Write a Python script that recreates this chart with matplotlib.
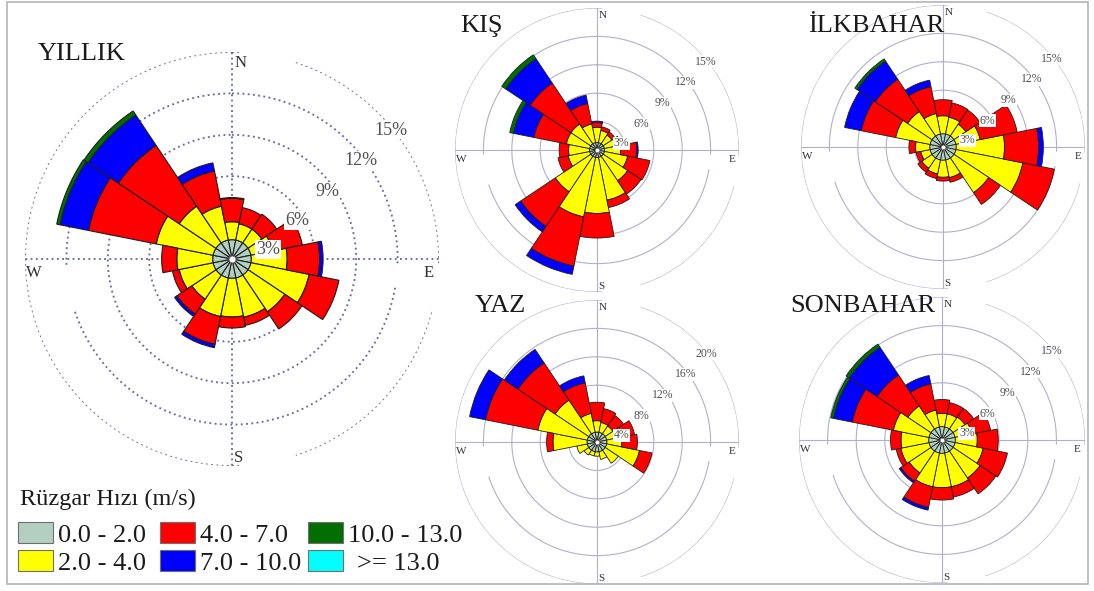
import numpy as np
from matplotlib import pyplot as plt
from matplotlib.patches import Rectangle

plt.rcParams['font.family'] = ['Liberation Serif', 'DejaVu Serif']

W, H = 1094, 591

directions = ['N', 'NNE', 'NE', 'ENE', 'E', 'ESE', 'SE', 'SSE',
              'S', 'SSW', 'SW', 'WSW', 'W', 'WNW', 'NW', 'NNW']
speedLabels = ['0.0 - 2.0', '2.0 - 4.0', '4.0 - 7.0',
               '7.0 - 10.0', '10.0 - 13.0', '>= 13.0']
speedColors = ['#b2cfc0', '#ffff00', '#ff0000', '#0000ff', '#006f00', '#00ffff']

# frequencies (%) per direction, one list per speed class
yillik02 = [1.4, 1.4, 1.4, 1.4, 1.4, 1.4, 1.4, 1.4, 1.4, 1.4, 1.4, 1.4, 1.4, 1.4, 1.4, 1.4]
yillik24 = [1.3, 1.2, 1.2, 1.6, 2.6, 4.3, 3.2, 2.9, 2.8, 2.85, 2.1, 2.5, 2.6, 4.2, 3.2, 2.5]
yillik47 = [1.7, 1.2, 1.3, 2.2, 2.35, 2.2, 1.5, 0.6, 0.8, 2.05, 1.3, 0.5, 1.1, 5.0, 5.3, 2.6]
yillik710 = [0.05, 0, 0, 0, 0.25, 0, 0, 0, 0, 0.25, 0.2, 0, 0, 2.1, 2.65, 0.6]
yillik1013 = [0, 0, 0, 0, 0, 0, 0, 0, 0, 0, 0, 0, 0, 0.25, 0.35, 0]
yillik13 = [0, 0, 0, 0, 0, 0, 0, 0, 0, 0, 0, 0, 0, 0, 0, 0]

kis02 = [0.8, 0.8, 0.8, 0.8, 0.8, 0.8, 0.8, 0.8, 0.8, 0.8, 0.8, 0.8, 0.8, 0.8, 0.8, 0.8]
kis24 = [1.6, 1.3, 1.1, 1.3, 1.7, 2.5, 3.1, 4.6, 5.9, 6.4, 4.5, 2.3, 2.2, 2.5, 2.5, 2.0]
kis47 = [0.5, 0.4, 0.4, 0.5, 1.7, 2.4, 1.7, 0.8, 2.6, 5.3, 4.4, 1.1, 1.0, 3.5, 5.2, 2.2]
kis710 = [0.15, 0, 0, 0, 0.15, 0, 0, 0, 0, 0.9, 0.7, 0, 0, 2.2, 3.1, 0.9]
kis1013 = [0, 0, 0, 0, 0, 0, 0, 0, 0, 0, 0, 0, 0, 0.4, 0.5, 0]
kis13 = [0, 0, 0, 0, 0, 0, 0, 0, 0, 0, 0, 0, 0, 0, 0, 0]

ilkbahar02 = [1.4, 1.4, 1.4, 1.4, 1.4, 1.4, 1.4, 1.4, 1.4, 1.4, 1.4, 1.4, 1.4, 1.4, 1.4, 1.4]
ilkbahar24 = [1.9, 1.8, 1.5, 2.6, 5.1, 7.2, 4.4, 1.9, 1.8, 1.5, 1.3, 1.0, 1.5, 3.7, 3.1, 2.2]
ilkbahar47 = [1.7, 1.55, 1.8, 4.0, 3.6, 3.4, 1.5, 0.5, 0.4, 0.5, 0.5, 0.5, 0.7, 3.7, 4.1, 2.9]
ilkbahar710 = [0, 0, 0, 0, 0.5, 0, 0, 0, 0, 0, 0, 0, 0, 1.8, 2.3, 0.7]
ilkbahar1013 = [0, 0, 0, 0, 0, 0, 0, 0, 0, 0, 0, 0, 0, 0, 0.3, 0]
ilkbahar13 = [0, 0, 0, 0, 0, 0, 0, 0, 0, 0, 0, 0, 0, 0, 0, 0]

yaz02 = [1.4, 1.4, 1.4, 1.4, 1.4, 1.4, 1.4, 1.4, 1.4, 1.4, 1.4, 1.4, 1.4, 1.4, 1.4, 1.4]
yaz24 = [1.6, 1.4, 1.3, 1.6, 2.1, 4.7, 2.2, 1.1, 0.6, 0.6, 0.8, 1.5, 4.8, 7.1, 5.7, 2.7]
yaz47 = [2.6, 2.0, 1.8, 2.4, 2.2, 1.8, 0, 0, 0, 0, 0, 0, 0.9, 7.5, 6.3, 4.4]
yaz710 = [0, 0, 0, 0, 0, 0, 0, 0, 0, 0, 0, 0, 0, 2.3, 2.3, 1.0]
yaz1013 = [0, 0, 0, 0, 0, 0, 0, 0, 0, 0, 0, 0, 0, 0, 0, 0]
yaz13 = [0, 0, 0, 0, 0, 0, 0, 0, 0, 0, 0, 0, 0, 0, 0, 0]

sonbahar02 = [1.4, 1.4, 1.4, 1.4, 1.4, 1.4, 1.4, 1.4, 1.4, 1.4, 1.4, 1.4, 1.4, 1.4, 1.4, 1.4]
sonbahar24 = [1.4, 1.4, 1.5, 1.8, 2.3, 3.0, 3.4, 3.6, 3.6, 3.6, 2.75, 3.0, 2.9, 3.8, 2.9, 1.8]
sonbahar47 = [1.45, 1.2, 1.1, 2.0, 2.2, 2.6, 2.0, 1.1, 1.3, 2.2, 1.05, 0.5, 1.1, 4.4, 3.9, 2.8]
sonbahar710 = [0, 0, 0, 0, 0, 0, 0, 0, 0, 0.3, 0.2, 0, 0, 2.0, 3.5, 0.9]
sonbahar1013 = [0, 0, 0, 0, 0, 0, 0, 0, 0, 0, 0, 0, 0, 0.3, 0.4, 0]
sonbahar13 = [0, 0, 0, 0, 0, 0, 0, 0, 0, 0, 0, 0, 0, 0, 0, 0]

ringsPct = [3, 6, 9, 12, 15]
yazRingsPct = [4, 8, 12, 16, 20]

# where the % labels sit: (fraction of outer ring, math angle in deg)
labelSpots = [(0.18, 15), (0.365, 30.5), (0.565, 35.5), (0.785, 37.5), (0.99, 39)]
# breaks in the rings (compass degrees), by ring index
ringGaps = {3: [(92, 100), (252, 268)],
            4: [(2, 18), (92, 105), (162, 178)]}


def arcPieces(gaps):
    pieces = []
    start = 0
    for a, b in gaps:
        pieces.append((start, a))
        start = b
    pieces.append((start, 360))
    return pieces


def drawRose(fig, cx, cy, radius, rings, classes, big=False):
    ax = fig.add_axes([(cx - radius) / W, 1 - (cy + radius) / H,
                       2 * radius / W, 2 * radius / H], projection='polar')
    ax.set_theta_zero_location('N')
    ax.set_theta_direction(-1)
    rmax = rings[-1]
    ax.set_ylim(0, rmax)
    ax.axis('off')

    if big:
        gridKw = dict(color='#6a6aa2', lw=1.35, linestyle=(0, (1, 1.8)))
    else:
        gridKw = dict(color='#b0b0cc', lw=0.8, linestyle='-')

    for i, r in enumerate(rings):
        for a, b in arcPieces(ringGaps.get(i, [])):
            t = np.deg2rad(np.linspace(a, b, 120))
            ax.plot(t, np.full_like(t, r), zorder=1, **gridKw)
    for a in [0, 90, 180, 270]:
        ax.plot([np.deg2rad(a)] * 2, [0, rmax], zorder=1, **gridKw)

    theta = np.deg2rad(np.arange(len(directions)) * 22.5)
    bottom = np.zeros(len(directions))
    for values, color in zip(classes, speedColors):
        values = np.array(values, dtype=float)
        keep = values > 0
        ax.bar(theta[keep], values[keep], width=np.deg2rad(22.5),
               bottom=bottom[keep], color=color, edgecolor='#1e1e1e',
               linewidth=0.8 if big else 0.6, zorder=3)
        bottom += values
    ax.plot([0], [0], 'o', ms=5 if big else 3.5, mfc='white',
            mec='#606060', mew=0.6, zorder=5)

    fs = 13 if big else 8.5
    for r, (frac, ang) in zip(rings, labelSpots):
        ax.text(np.deg2rad(90 - ang), frac * rmax, f"{r}%", fontsize=fs,
                color='#505050', ha='center', va='center', zorder=6,
                clip_on=False,
                bbox=dict(boxstyle='square,pad=0.05', fc='white', ec='none'))

    cfs = 12 if big else 8
    for name, ang, frac in [('N', 2.5, 0.95), ('E', 94, 0.95),
                            ('S', 178, 0.96), ('W', 266, 0.96)]:
        ax.text(np.deg2rad(ang), frac * rmax, name, fontsize=cfs,
                color='#303030', ha='center', va='center', zorder=6,
                clip_on=False)
    return ax


def figText(fig, x, y, s, **kw):
    fig.text(x / W, 1 - y / H, s, **kw)


fig = plt.figure(figsize=(W / 100, H / 100), dpi=100)

drawRose(fig, 232, 259, 207, ringsPct,
         [yillik02, yillik24, yillik47, yillik710, yillik1013, yillik13], big=True)
drawRose(fig, 597, 150, 142, ringsPct,
         [kis02, kis24, kis47, kis710, kis1013, kis13])
drawRose(fig, 943, 147, 142, ringsPct,
         [ilkbahar02, ilkbahar24, ilkbahar47, ilkbahar710, ilkbahar1013, ilkbahar13])
drawRose(fig, 597, 442, 142, yazRingsPct,
         [yaz02, yaz24, yaz47, yaz710, yaz1013, yaz13])
drawRose(fig, 942, 440, 143, ringsPct,
         [sonbahar02, sonbahar24, sonbahar47, sonbahar710, sonbahar1013, sonbahar13])

titleKw = dict(fontsize=19, color='#1a1a1a', ha='left', va='baseline')
figText(fig, 38, 60, 'YILLIK', **titleKw)
figText(fig, 460, 32, 'KIŞ', **titleKw)
figText(fig, 808, 32, 'İLKBAHAR', **titleKw)
figText(fig, 475, 312, 'YAZ', **titleKw)
figText(fig, 790, 312, 'SONBAHAR', **titleKw)

# legend
figText(fig, 20, 505, 'Rüzgar Hızı (m/s)', fontsize=17.5, color='#1a1a1a',
        ha='left', va='baseline')
boxX = [18, 160, 308]
boxY = [522, 550]
textX = [58, 200, 348]
for i, (label, color) in enumerate(zip(speedLabels, speedColors)):
    col, row = i // 2, i % 2
    x0, y0 = boxX[col], boxY[row]
    fig.patches.append(Rectangle((x0 / W, 1 - (y0 + 21) / H), 35 / W, 21 / H,
                                 transform=fig.transFigure, facecolor=color,
                                 edgecolor='#707070', lw=0.8))
    tx = textX[col] + (9 if label.startswith('>') else 0)
    figText(fig, tx, y0 + 20, label, fontsize=19, color='#1a1a1a',
            ha='left', va='baseline')

fig.patches.append(Rectangle((7 / W, 1 - 584 / H), 1081 / W, 582 / H,
                             transform=fig.transFigure, fill=False,
                             edgecolor='#b4b4b4', lw=1.2))

fig.savefig('out.png', dpi=100)
